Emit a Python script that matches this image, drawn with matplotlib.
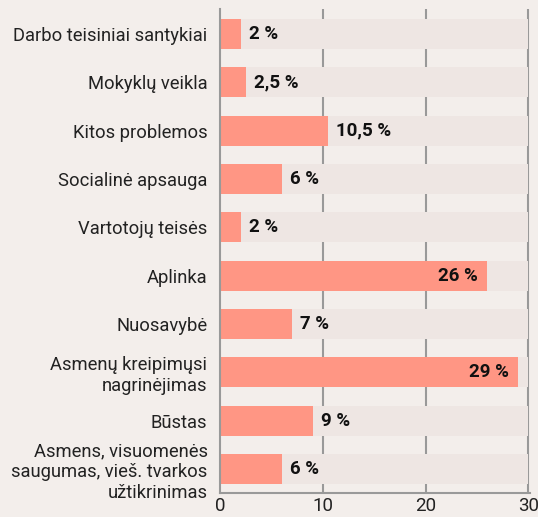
import matplotlib
matplotlib.use("Agg")
import matplotlib.pyplot as plt

categories = [
    "Darbo teisiniai santykiai",
    "Mokyklų veikla",
    "Kitos problemos",
    "Socialinė apsauga",
    "Vartotojų teisės",
    "Aplinka",
    "Nuosavybė",
    "Asmenų kreipimųsi\nnagrinėjimas",
    "Būstas",
    "Asmens, visuomenės\nsaugumas, vieš. tvarkos\nužtikrinimas",
]
values = [2, 2.5, 10.5, 6, 2, 26, 7, 29, 9, 6]
value_labels = ["2 %", "2,5 %", "10,5 %", "6 %", "2 %", "26 %", "7 %", "29 %", "9 %", "6 %"]
xticks = [0, 10, 20, 30]
max_val = 30

plt.rcParams['font.family'] = ['Roboto', 'DejaVu Sans']

bg = "#F3EEEB"
track = "#EEE6E3"
bar_c = "#FF9684"
grid_c = "#999999"

fig = plt.figure(figsize=(5.38, 5.17), dpi=100, facecolor=bg)
ax = fig.add_axes([220/538, 1 - 493/517, 310/538, (493-9)/517])
ax.set_facecolor(bg)

y = list(range(len(categories)))
ax.barh(y, [max_val]*len(y), height=0.62, color=track, zorder=2)
ax.barh(y, values, height=0.62, color=bar_c, zorder=3)

for yi, v, lab in zip(y, values, value_labels):
    if v > 20:
        ax.text(v - 0.9, yi, lab, ha='right', va='center', fontsize=13.5,
                fontweight='bold', color='#111111', zorder=4)
    else:
        ax.text(v + 0.8, yi, lab, ha='left', va='center', fontsize=13.5,
                fontweight='bold', color='#111111', zorder=4)

ax.set_xlim(0, 30.15)
ax.set_ylim(9.5, -0.52)
ax.set_yticks(y)
ax.set_yticklabels(categories, fontsize=13.2, color='#222222', linespacing=1.22)
ax.set_xticks(xticks)
ax.set_xticklabels([str(t) for t in xticks], fontsize=13.5, color='#222222')
ax.tick_params(axis='both', length=0)
ax.tick_params(axis='y', pad=9)
ax.tick_params(axis='x', pad=3)

for xt in xticks[1:]:
    ax.axvline(xt, color=grid_c, lw=1.5, zorder=1)

for s in ['top', 'right']:
    ax.spines[s].set_visible(False)
ax.spines['left'].set_color(grid_c)
ax.spines['left'].set_linewidth(1.5)
ax.spines['left'].set_zorder(5)
ax.spines['bottom'].set_color(grid_c)
ax.spines['bottom'].set_linewidth(1.5)
ax.spines['bottom'].set_zorder(5)

fig.savefig("out.png", dpi=100, facecolor=bg)
